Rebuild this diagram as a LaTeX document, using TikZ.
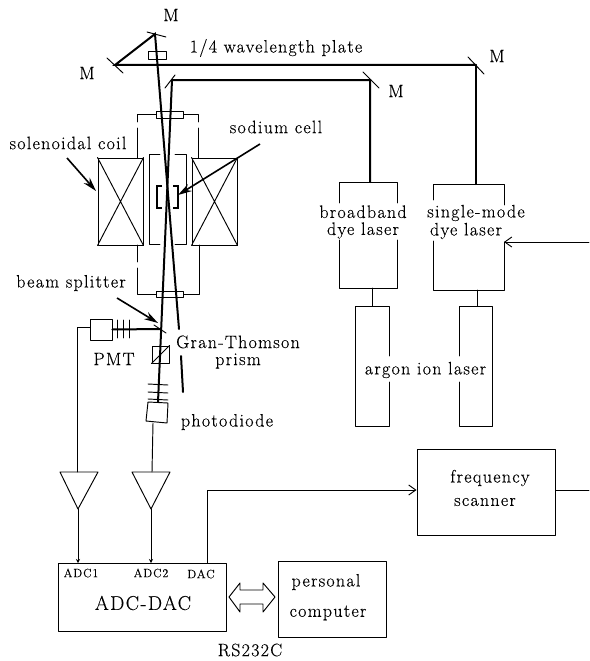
\documentclass[tikz,border=0pt]{standalone}
\usepackage{fontspec}
\setmainfont{Latin Modern Roman}[LetterSpace=7,FakeBold=0.25]
\usetikzlibrary{arrows.meta}
\tikzset{
 thin line/.style={line width=0.95pt,line cap=round,line join=round},
 beam/.style={line width=2pt,line cap=round},
 lbl/.style={inner sep=0pt,font=\fontsize{18}{17}\selectfont,align=center},
 big lbl/.style={inner sep=0pt,font=\fontsize{20}{22}\selectfont},
 small lbl/.style={inner sep=0pt,font=\fontsize{12}{14}\selectfont},
 box/.style={draw,thin line,inner sep=0pt,minimum width=#1},
 pointer/.style={line width=1.6pt,-{Stealth[length=14pt,width=8pt]}},
 barb/.style={thin line,-{Straight Barb[length=7pt,width=10pt]}},
 tinytip/.style={thin line,-{Stealth[length=4pt,width=4pt]}},
}
\begin{document}
\begin{tikzpicture}[x=1pt,y=-1pt]
\useasboundingbox (0,0) rectangle (589,661);
% mirrors
\coordinate (m1a) at (147,32); \coordinate (m1b) at (166,37); \coordinate (m1) at (155,34);
\coordinate (m2a) at (107,58); \coordinate (m2b) at (123,73); \coordinate (m2) at (115,65);
\coordinate (m3a) at (468,57); \coordinate (m3b) at (484,74); \coordinate (m3) at (476,65);
\coordinate (m4a) at (363,72); \coordinate (m4b) at (379,88); \coordinate (m4) at (370,80);
\coordinate (m5a) at (165,88); \coordinate (m5b) at (175,75); \coordinate (m5) at (172,80);
\draw[thin line] (m1a)--(m1b) (m2a)--(m2b) (m3a)--(m3b) (m4a)--(m4b) (m5a)--(m5b);
% plate
\node[box=18pt,minimum height=8pt,fill=white] (plate) at (157.5,55) {};
% windows and cell housing
\node[box=27pt,minimum height=7pt] (wtop) at (169.5,114.5) {};
\node[box=27pt,minimum height=6pt] (wbot) at (169.5,294) {};
\node[box=45pt,minimum height=87pt] (coilL) at (120.5,201.5) {};
\node[box=45pt,minimum height=87pt] (coilR) at (214.5,201.5) {};
\draw[thin line] (coilL.north west)--(coilL.south east) (coilL.north east)--(coilL.south west);
\draw[thin line] (coilR.north west)--(coilR.south east) (coilR.north east)--(coilR.south west);
\draw[thin line] (wtop.west)-|(137,122) (137,128)--(137,158);
\draw[thin line] (wtop.east)-|(198,122) (198,128)--(198,158);
\draw[thin line] (137,245)--(137,262) (137,268)|-(wbot.west);
\draw[thin line] (199,245)|-(wbot.east);
\draw[thin line] (160,154)-|(149,244)--(160,244) (175,244)--(186,244)|-(175,154);
% sodium cell
\draw[line width=2.2pt] (162,186)-|(157,208)--(162,208) (173,186)-|(178,208)--(173,208);
% beams
\coordinate (cross) at (167,200);
\coordinate (bs) at (160,329);
\coordinate (pd) at (158,402);
\coordinate (e1) at (179,329); \coordinate (e2) at (181,356); \coordinate (e3) at (183,392);
\draw[beam] (m3)--(m2)--(m1)--(e1) (e2)--(e3);
\draw[beam] (m3)--(476,184);
\draw[beam] (370,182)--(m4)--(m5)--(pd);
% PMT
\node[box=22pt,minimum height=21pt] (pmt) at (101,329.5) {};
\draw[beam] (pmt.east)--(bs);
\draw[thin line] (154,325)--(166,333);
\foreach \xx in {117,123,129} \draw[thin line] (\xx,320)--(\xx,338);
% prism
\node[box=17pt,minimum height=17pt] (prism) at (160.5,354.5) {};
\draw[thin line] (prism.south west)--(prism.north east);
% photodiode
\foreach \yy in {384,392,399} \draw[thin line] (148,\yy)--(168,\yy+1);
\draw[thin line] (148,402)--(168,403)--(167,423)--(146,421)--cycle;
% amplifiers
\coordinate (a1l) at (60,472); \coordinate (a1r) at (98,472); \coordinate (a1t) at (78,509);
\coordinate (a2l) at (132,472); \coordinate (a2r) at (170,472); \coordinate (a2t) at (151,509);
\draw[thin line] (a1l)--(a1r)--(a1t)--cycle;
\draw[thin line] (a2l)--(a2r)--(a2t)--cycle;
\draw[thin line] (pmt.west |- 0,327)-|(77,472);
\draw[thin line] (153,423)--(152,472);
\node[box=168pt,minimum height=68pt] (adc) at (142,597) {};
\draw[tinytip] (a1t)--(78,563);
\draw[tinytip] (a2t)--(151,563);
% computer, scanner
\node[box=108pt,minimum height=76pt] (pc) at (332,599) {};
\node[box=138pt,minimum height=86pt] (fs) at (486,492) {};
\draw[barb] (207,563)|-(fs.west |- 0,490);
\draw[thin line] (fs.east |- 0,490)--(589,490);
\draw[thin line] (229,597)--(240,583)--(240,590)--(263,590)--(263,583)--(275,597)--(263,612)--(263,604)--(240,604)--(240,612)--cycle;
% lasers
\draw[thin line] (339,203)|-(397,182)--(397,203) (339,240)|-(397,288)--(397,240);
\draw[thin line] (433,200)|-(504,184)--(504,205) (433,241)|-(504,290)--(504,242);
\draw[thin line] (372,288)--(372,306) (477,290)--(477,306);
\draw[thin line] (389,356)|-(355,306)|-(389,426)--(389,382);
\draw[thin line] (459,356)|-(492,306)|-(459,426)--(459,382);
\draw[barb] (589,242)--(504,242);
% pointers
\coordinate (p1) at (67,158); \coordinate (p1e) at (96,191);
\coordinate (p2) at (260,144); \coordinate (p2e) at (178,195);
\coordinate (p3) at (117,298); \coordinate (p3e) at (158,323);
\draw[pointer] (p1)--(p1e);
\draw[pointer] (p2)--(p2e);
\draw[pointer] (p3)--(p3e);
% labels
\node[lbl] (tM1) at (171,15) {M};
\node[lbl] (tM2) at (87,73) {M};
\node[lbl] (tM3) at (497,56) {M};
\node[lbl] (tM4) at (396,91) {M};
\node[lbl] (tplate) at (276,48) {1/4 wavelength plate};
\node[lbl] (tcell) at (276,127) {sodium cell};
\node[lbl] (tcoil) at (68,143) {solenoidal coil};
\node[lbl] (tbs) at (71,283) {beam splitter};
\node[lbl] (tpmt) at (114,359) {PMT};
\node[lbl] (tgt) at (238,352) {Gran-Thomson\\prism};
\node[lbl] (tpd) at (227,422) {photodiode};
\node[lbl] (tbb) at (363,222) {broadband\\dye laser};
\node[lbl] (tsm) at (476,213) {single-mode};
\node[lbl] (tsm2) at (466,231) {dye laser};
\node[lbl] (targ) at (425.5,370) {argon ion laser};
\node[lbl] (tfs) at (490,478) {frequency};
\node[lbl] (tfs2) at (485,502) {scanner};
\node[lbl] (tpc) at (326,582) {personal};
\node[lbl] (tpc2) at (328,613) {computer};
\node[big lbl] (tadc) at (143,603) {ADC-DAC};
\node[lbl] (trs) at (250,650) {RS232C};
\node[small lbl] (t1) at (81,573) {ADC1};
\node[small lbl] (t2) at (151,573) {ADC2};
\node[small lbl] (t3) at (201,574) {DAC};
\end{tikzpicture}
\end{document}
